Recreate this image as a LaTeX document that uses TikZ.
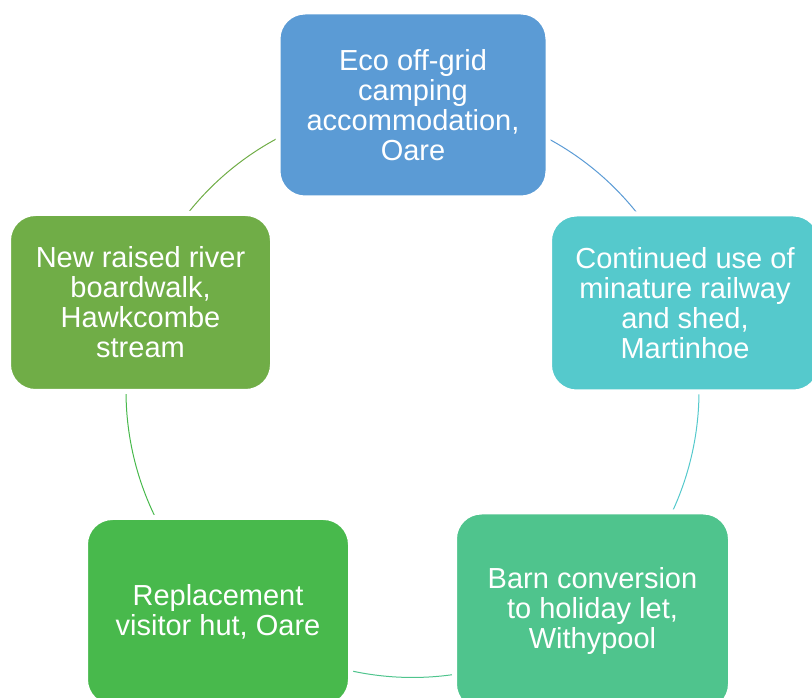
\documentclass[tikz,border=0pt]{standalone}
\usepackage{fontspec}
\setmainfont{Liberation Sans}
\usetikzlibrary{calc,backgrounds}
\definecolor{ecoc}{RGB}{91,155,213}
\definecolor{railc}{RGB}{85,201,204}
\definecolor{barnc}{RGB}{79,196,141}
\definecolor{hutc}{RGB}{72,185,76}
\definecolor{walkc}{RGB}{112,173,71}
\begin{document}
\begin{tikzpicture}[x=1pt, y=1pt, line join=round, line cap=round]
    \tikzset{box/.style={rectangle, rounded corners=27pt, draw=white, line width=5pt,
        text=white, align=center, inner sep=0pt, font=\fontsize{29}{30}\selectfont},
      ring/.style={line width=1pt}}
    \useasboundingbox (0,0) rectangle (812,698);
    \clip (0,0) rectangle (812,698);
    \coordinate (hub) at (412.5,307);
    \def\ringr{286.5pt}
    % the five boxes
    \node[box, fill=ecoc, minimum width=270pt, minimum height=186pt] (eco) at (413,593)
        {Eco off-grid\\camping\\accommodation,\\Oare};
    \node[box, fill=railc, minimum width=271pt, minimum height=178pt] (rail) at (685,395)
        {Continued use of\\minature railway\\and shed,\\Martinhoe};
    \node[box, fill=barnc, minimum width=276pt, minimum height=199pt] (barn) at (592.5,86.5)
        {Barn conversion\\to holiday let,\\Withypool};
    \node[box, fill=hutc, minimum width=265pt, minimum height=189pt] (hut) at (218,86)
        {Replacement\\visitor hut, Oare};
    \node[box, fill=walkc, minimum width=264pt, minimum height=178pt] (walk) at (140.5,395.5)
        {New raised river\\boardwalk,\\Hawkcombe\\stream};
    % ring segments, clockwise, behind the boxes
    \begin{scope}[on background layer]
        \foreach \a/\b/\c in {eco/rail/ecoc, rail/barn/railc, barn/hut/barnc, hut/walk/hutc, walk/eco/walkc}
            \draw[ring, \c] let \p1=($(\a)-(hub)$), \p2=($(\b)-(hub)$),
                \n1={atan2(\y1,\x1)}, \n2={atan2(\y2,\x2)}, \n3={mod(\n1-\n2+720,360)} in
                ($(hub)+(\n1:\ringr)$) arc[start angle=\n1, delta angle=-\n3, radius=\ringr];
    \end{scope}
\end{tikzpicture}
\end{document}
